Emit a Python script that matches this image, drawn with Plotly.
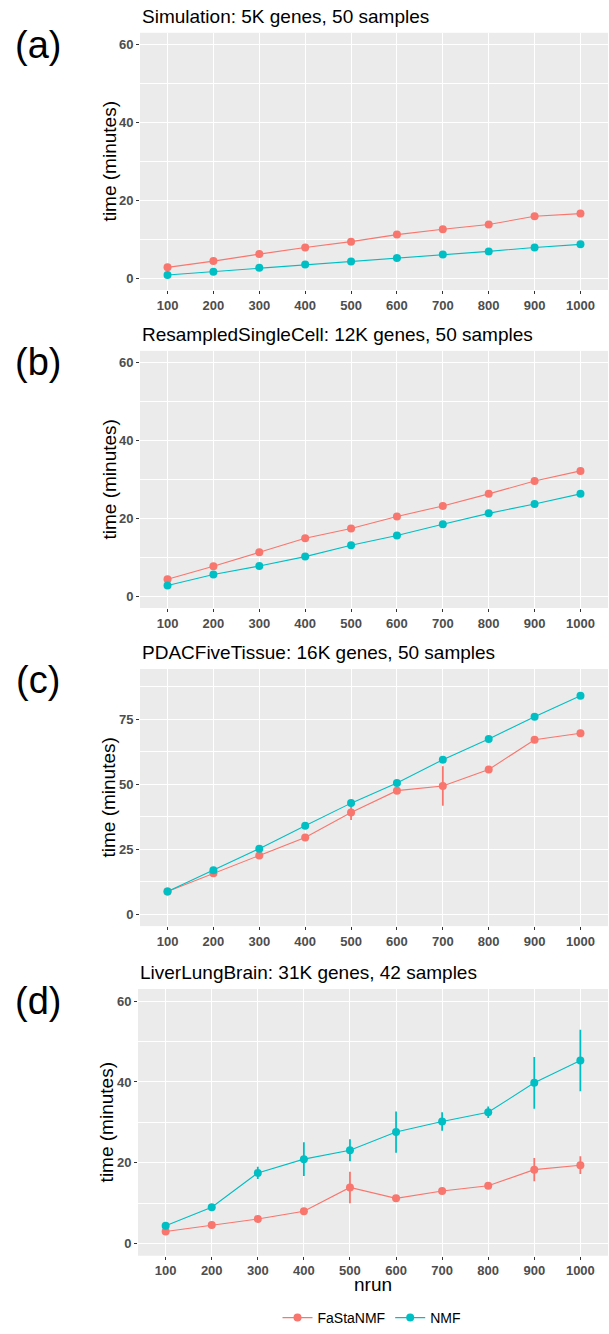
import plotly.graph_objects as go

# ---------------- data ----------------
nrun = ["100", "200", "300", "400", "500", "600", "700", "800", "900", "1000"]

titles = ["Simulation: 5K genes, 50 samples",
          "ResampledSingleCell: 12K genes, 50 samples",
          "PDACFiveTissue: 16K genes, 50 samples",
          "LiverLungBrain: 31K genes, 42 samples"]
panel_labels = ["(a)", "(b)", "(c)", "(d)"]

sim_fasta = [2.8, 4.4, 6.2, 7.9, 9.4, 11.2, 12.6, 13.8, 15.9, 16.6]
sim_fasta_err = [0.2, 0.2, 0.2, 0.2, 0.2, 0.2, 0.3, 0.3, 0.3, 0.3]
sim_nmf = [0.85, 1.7, 2.7, 3.5, 4.3, 5.2, 6.1, 6.9, 7.9, 8.7]
sim_nmf_err = [0.1, 0.1, 0.1, 0.2, 0.2, 0.2, 0.2, 0.2, 0.2, 0.3]

rsc_fasta = [4.4, 7.7, 11.3, 14.9, 17.4, 20.5, 23.2, 26.3, 29.6, 32.2]
rsc_fasta_err = [0.2, 0.3, 0.3, 0.3, 0.3, 0.4, 0.4, 0.4, 0.4, 0.5]
rsc_nmf = [2.8, 5.6, 7.8, 10.2, 13.1, 15.6, 18.5, 21.3, 23.7, 26.3]
rsc_nmf_err = [0.2, 0.3, 0.3, 0.3, 0.3, 0.4, 0.4, 0.4, 0.6, 0.6]

pdac_fasta = [8.7, 15.7, 22.6, 29.5, 39.1, 47.5, 49.3, 55.6, 67.1, 69.6]
pdac_fasta_err = [0.3, 0.4, 0.5, 0.6, 2.9, 0.6, 7.6, 1.2, 1.0, 0.6]
pdac_nmf = [8.7, 16.9, 25.2, 34.0, 42.7, 50.4, 59.4, 67.4, 75.9, 84.0]
pdac_nmf_err = [0.3, 0.8, 0.4, 0.4, 0.5, 0.4, 0.4, 0.5, 0.5, 0.5]

llb_fasta = [3.0, 4.6, 6.1, 8.0, 13.9, 11.2, 13.0, 14.3, 18.3, 19.4]
llb_fasta_err = [0.3, 0.3, 0.4, 0.4, 3.9, 0.4, 0.4, 0.4, 2.9, 2.2]
llb_nmf = [4.4, 9.0, 17.5, 20.9, 23.1, 27.6, 30.2, 32.5, 39.8, 45.3]
llb_nmf_err = [0.4, 0.8, 1.5, 4.2, 2.7, 5.1, 2.3, 1.4, 6.4, 7.6]

y_ranges = [[-3, 63], [-3, 63], [-4.6, 94.3], [-3, 63]]
y_dticks = [20, 20, 25, 20]

series = [
    (sim_fasta, sim_fasta_err, sim_nmf, sim_nmf_err),
    (rsc_fasta, rsc_fasta_err, rsc_nmf, rsc_nmf_err),
    (pdac_fasta, pdac_fasta_err, pdac_nmf, pdac_nmf_err),
    (llb_fasta, llb_fasta_err, llb_nmf, llb_nmf_err),
]

# ---------------- layout geometry (pixels) ----------------
W, H = 609, 1334
plot_tops = [33, 353, 673, 995]
plot_bots = [291.7, 611.7, 931.7, 1263.3]
plot_lefts = [140, 140, 140, 138]
plot_right = 608
label_centers = [45, 364, 684, 1007]
ytitle_x = [109, 109, 109, 106]

RED = "#F8766D"
CYAN = "#00BFC4"
FONT = "Liberation Sans, Arial, sans-serif"

fig = go.Figure()


def py(p):
    return 1 - p / H


annotations = []
for i, (fa, fa_e, nm, nm_e) in enumerate(series):
    k = "" if i == 0 else str(i + 1)
    xa, ya = "x" + k, "y" + k
    for name, vals, err, col in (("FaStaNMF", fa, fa_e, RED), ("NMF", nm, nm_e, CYAN)):
        fig.add_trace(go.Scatter(
            x=nrun, y=vals, name=name, legendgroup=name, showlegend=(i == 0),
            mode="lines+markers",
            line=dict(color=col, width=1.1),
            marker=dict(color=col, size=8),
            error_y=dict(type="data", array=err, visible=True, color=col,
                         thickness=1.8, width=0),
            xaxis=xa, yaxis=ya,
        ))
    xkey = "xaxis" + k
    ykey = "yaxis" + k
    fig.layout[xkey] = dict(
        domain=[plot_lefts[i] / W, plot_right / W], anchor=ya,
        type="category", categoryorder="array", categoryarray=nrun,
        range=[-0.6, 9.6], showgrid=True, gridcolor="white", gridwidth=1.1,
        zeroline=False, showline=False,
        ticks="outside", ticklen=3, tickcolor="#333333", tickwidth=1,
        tickfont=dict(family=FONT, size=13, color="#4D4D4D", weight="bold"),
    )
    fig.layout[ykey] = dict(
        domain=[py(plot_bots[i]), py(plot_tops[i])], anchor=xa,
        range=y_ranges[i], tick0=0, dtick=y_dticks[i],
        showgrid=True, gridcolor="white", gridwidth=1.1,
        minor=dict(tick0=0, dtick=y_dticks[i] / 2, showgrid=True,
                   gridcolor="white", gridwidth=0.5, ticks=""),
        zeroline=False, showline=False,
        ticks="outside", ticklen=3, tickcolor="#333333", tickwidth=1,
        tickfont=dict(family=FONT, size=13, color="#4D4D4D", weight="bold"),
    )
    # panel title
    annotations.append(dict(
        text=titles[i], xref="paper", yref="paper",
        x=plot_lefts[i] / W, y=py(plot_tops[i] - 4), xanchor="left", yanchor="bottom",
        showarrow=False, font=dict(family=FONT, size=19, color="black"),
    ))
    # panel label
    annotations.append(dict(
        text=panel_labels[i], xref="paper", yref="paper",
        x=38 / W, y=py(label_centers[i]), xanchor="center", yanchor="middle",
        showarrow=False, font=dict(family=FONT, size=38, color="black"),
    ))
    # y title
    annotations.append(dict(
        text="time (minutes)", xref="paper", yref="paper", textangle=-90,
        x=ytitle_x[i] / W, y=py((plot_tops[i] + plot_bots[i]) / 2),
        xanchor="center", yanchor="middle",
        showarrow=False, font=dict(family=FONT, size=19, color="black"),
    ))

annotations.append(dict(
    text="nrun", xref="paper", yref="paper",
    x=(plot_lefts[3] + plot_right) / 2 / W, y=py(1292), xanchor="center", yanchor="middle",
    showarrow=False, font=dict(family=FONT, size=19, color="black"),
))

fig.update_layout(
    width=W, height=H,
    margin=dict(l=0, r=0, t=0, b=0),
    paper_bgcolor="white", plot_bgcolor="#EBEBEB",
    annotations=annotations,
    showlegend=True,
    legend=dict(orientation="h", x=372 / W, xanchor="center",
                y=py(1326), yanchor="middle",
                font=dict(family=FONT, size=14, color="black"),
                bgcolor="rgba(0,0,0,0)", itemwidth=30, tracegroupgap=0),
)

fig.write_html("out.html")
